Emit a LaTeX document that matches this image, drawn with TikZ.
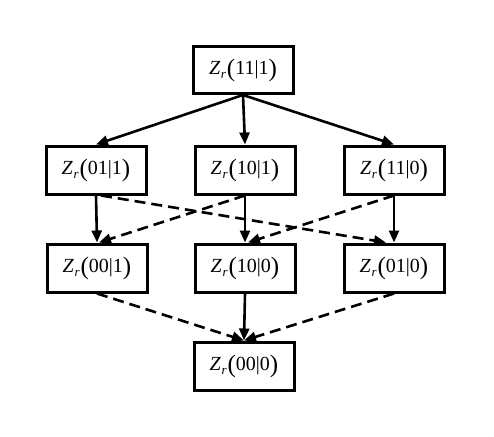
\documentclass[tikz,border=0pt]{standalone}
\usepackage{fontspec}
\setmainfont{Liberation Serif}
\usetikzlibrary{arrows.meta}
\tikzset{
  zbox/.style={draw, line width=3pt, minimum width=100pt, minimum height=48pt, inner sep=0pt, font=\fontsize{20}{22}\selectfont},
  solidarrow/.style={line width=2.6pt, -{Triangle[length=12pt,width=10pt]}},
  dasharrow/.style={solidarrow, dash pattern=on 11pt off 6pt},
}
\newcommand{\zpar}[1]{\raisebox{-1.5pt}{\fontsize{25}{25}\selectfont #1}}
\newcommand{\zr}[1]{\textit{Z}\kern0.5pt\raisebox{-4pt}{\fontsize{13}{13}\selectfont\textit{r}}\kern1pt\zpar{(}#1\zpar{)}}
\begin{document}
\begin{tikzpicture}[x=1pt,y=-1pt]
\useasboundingbox (0,0) rectangle (494,436);
\node[zbox, minimum height=47pt] (t)  at (243,70)  {\zr{11|1}};
\node[zbox] (a1) at (96,170)  {\zr{01|1}};
\node[zbox] (a2) at (245,170) {\zr{10|1}};
\node[zbox] (a3) at (394,170) {\zr{11|0}};
\node[zbox] (b1) at (97,268)  {\zr{00|1}};
\node[zbox] (b2) at (245,268) {\zr{10|0}};
\node[zbox] (b3) at (394,268) {\zr{01|0}};
\node[zbox] (c)  at (244,366) {\zr{00|0}};
\draw[solidarrow] (t.south) -- (a1.north);
\draw[solidarrow] (t.south) -- (a2.north);
\draw[solidarrow] (t.south) -- (a3.north);
\draw[solidarrow] (a1.south) -- (b1.north);
\draw[solidarrow] (a2.south) -- (b2.north);
\draw[solidarrow] (a3.south) -- (b3.north);
\draw[dasharrow] ([xshift=5pt]a1.south) -- ([xshift=-8pt]b3.north);
\draw[dasharrow] (a2.south) -- ([xshift=2pt]b1.north);
\draw[dasharrow] (a3.south) -- ([xshift=3pt]b2.north);
\draw[dasharrow] (b1.south) -- (c.north);
\draw[solidarrow] (b2.south) -- (c.north);
\draw[dasharrow] (b3.south) -- (c.north);
\end{tikzpicture}
\end{document}
